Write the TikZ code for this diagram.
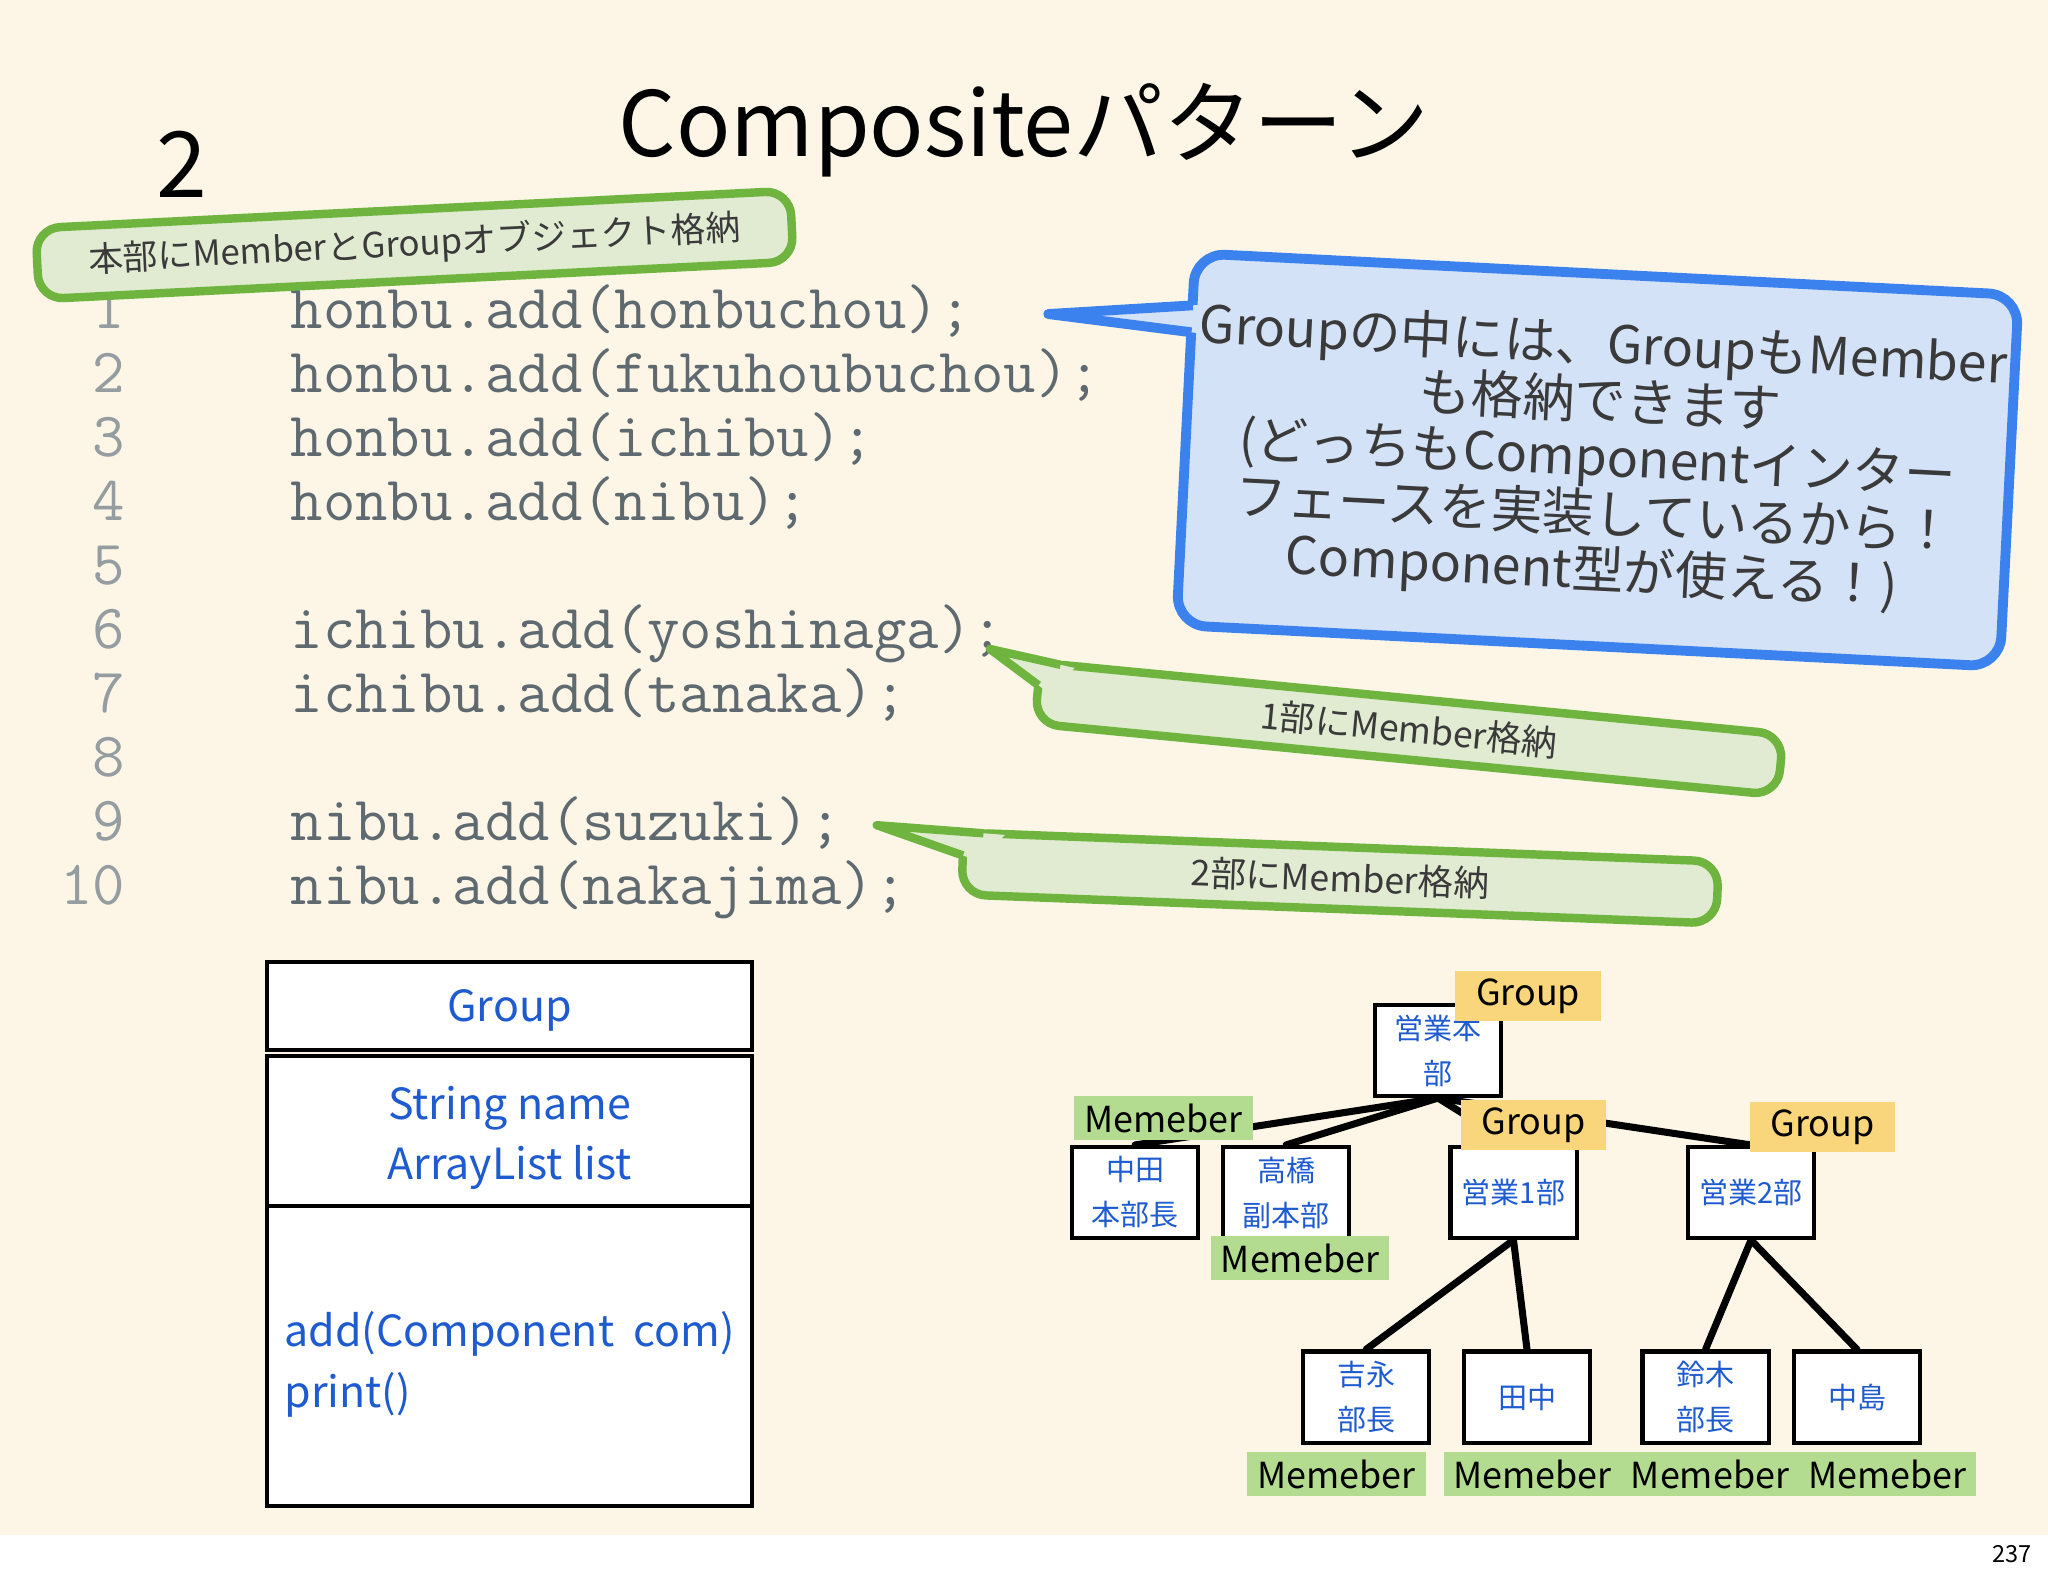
\documentclass[tikz,border=0pt]{standalone}
\usepackage{fontspec}
\setmainfont{Noto Sans CJK JP}
\usetikzlibrary{calc}

\definecolor{cream}{HTML}{FDF6E7}
\definecolor{codegray}{HTML}{5F6A70}
\definecolor{numgray}{HTML}{959DA1}
\definecolor{notegreen}{HTML}{6FB43E}
\definecolor{notegreenbg}{HTML}{E0EBD2}
\definecolor{noteblue}{HTML}{3C82EE}
\definecolor{notebluebg}{HTML}{D4E2F8}
\definecolor{notetext}{HTML}{3A3A3A}
\definecolor{umlblue}{HTML}{1E5BD0}
\definecolor{tagyellow}{HTML}{F9D57C}
\definecolor{taggreen}{HTML}{B4DC90}

\newcommand{\codefont}{\fontsize{17.9pt}{20pt}\ttfamily}
\newcommand{\notefont}{\fontsize{10.1pt}{12pt}\selectfont}
\newcommand{\bignotefont}{\fontsize{14.7pt}{16.1pt}\selectfont}
\newcommand{\umlfont}{\fontsize{12.2pt}{17.2pt}\selectfont}
\newcommand{\orgfont}{\fontsize{8.25pt}{12.8pt}\selectfont}
\newcommand{\tagfont}{\fontsize{10.2pt}{12pt}\selectfont}

\tikzset{
  codeline/.style={anchor=base west, inner sep=0pt, text=codegray, font=\codefont},
  lineno/.style={anchor=base east, inner sep=0pt, text=numgray, font=\codefont},
  greennote/.style={draw=notegreen, fill=notegreenbg, line width=2.4pt,
    rounded corners=7pt, inner sep=0pt, text=notetext, font=\notefont},
  bluenote/.style={draw=noteblue, fill=notebluebg, line width=2.8pt,
    rounded corners=8.5pt, inner sep=0pt, align=center, text=notetext, font=\bignotefont},
  umlpart/.style={draw, line width=1.15pt, fill=white, minimum width=4.85cm,
    inner sep=0pt, text=umlblue, font=\umlfont},
  orgbox/.style={draw, line width=1.15pt, fill=white, minimum width=1.26cm,
    minimum height=0.91cm, inner sep=0pt, align=center, text=umlblue, font=\orgfont},
  orgline/.style={line width=2pt, line cap=round},
  grouptag/.style={fill=tagyellow, minimum width=1.45cm, minimum height=0.5cm,
    inner sep=0pt, font=\tagfont},
  membertag/.style={fill=taggreen, minimum width=1.78cm, minimum height=0.44cm,
    inner sep=0pt, font=\tagfont},
}

\begin{document}
\begin{tikzpicture}[x=0.01cm, y=-0.01cm]
	\useasboundingbox (0,0) rectangle (2048,1576);

	% slide background
	\fill[white] (0,0) rectangle (2048,1576);
	\fill[cream] (0,0) rectangle (2048,1535);

	% title and slide numbers
	\node[anchor=base, font=\fontsize{25.6pt}{30pt}\selectfont] (title) at (1024,157) {Compositeパターン};
	\node[anchor=base, font=\fontsize{26pt}{30pt}\selectfont] (stepno) at (182,198) {2};
	\node[anchor=base, font=\fontsize{6.7pt}{8pt}\selectfont] (pageno) at (2012,1562) {237};

	% line numbers
	\node[lineno] (n1) at (126,328) {1};
	\node[lineno] (n2) at (126,392.1) {2};
	\node[lineno] (n3) at (126,456.2) {3};
	\node[lineno] (n4) at (126,520.3) {4};
	\node[lineno] (n5) at (126,584.4) {5};
	\node[lineno] (n6) at (126,648.5) {6};
	\node[lineno] (n7) at (126,712.6) {7};
	\node[lineno] (n8) at (126,776.7) {8};
	\node[lineno] (n9) at (126,840.8) {9};
	\node[lineno] (n10) at (126,904.9) {10};

	% code
	\node[codeline] (c1) at (290,328) {honbu.add(honbuchou);};
	\node[codeline] (c2) at (290,392.1) {honbu.add(fukuhoubuchou);};
	\node[codeline] (c3) at (290,456.2) {honbu.add(ichibu);};
	\node[codeline] (c4) at (290,520.3) {honbu.add(nibu);};
	\node[codeline] (c6) at (290,648.5) {ichibu.add(yoshinaga);};
	\node[codeline] (c7) at (290,712.6) {ichibu.add(tanaka);};
	\node[codeline] (c9) at (290,840.8) {nibu.add(suzuki);};
	\node[codeline] (c10) at (290,904.9) {nibu.add(nakajima);};

	% note on honbu
	\node[greennote, rotate=2.85, minimum width=7.55cm, minimum height=0.71cm, font=\fontsize{9.9pt}{12pt}\selectfont] (note1) at (414.5,245) {本部にMemberとGroupオブジェクト格納};

	% note on Group
	\begin{scope}[shift={(1597.5,460)}, rotate=-2.9]
		\node[bluenote, transform shape, minimum width=8.24cm, minimum height=3.72cm] (noteg) at (0,0)
			{Groupの中には、GroupもMember\\も格納できます\\(どっちもComponentインター\\フェースを実装しているから！\\Component型が使える！)};
		\coordinate (tipg) at (-556,-118);
		\coordinate (ga) at (-412,-134);
		\coordinate (gb) at (-412,-107);
	\end{scope}
	\fill[notebluebg] (tipg) -- ($(tipg)!1.06!(ga)$) -- ($(tipg)!1.06!(gb)$) -- cycle;
	\draw[noteblue, line width=2.8pt, line join=round] (ga) -- (tipg) -- (gb);

	% note on ichibu
	\begin{scope}[shift={(1409,729)}, rotate=-5.5]
		\node[greennote, transform shape, minimum width=7.46cm, minimum height=0.61cm] (note2) at (0,0) {1部にMember格納};
		\coordinate (tip2) at (-425,-39.5);
		\coordinate (n2a) at (-353,-30.5);
		\coordinate (n2b) at (-373,-8);
	\end{scope}
	\fill[notegreenbg] (tip2) -- ($(tip2)!1.2!(n2a)$) -- ($(tip2)!1.2!(n2b)$) -- cycle;
	\draw[notegreen, line width=2.4pt, line join=round] (n2a) -- (tip2) -- (n2b);

	% note on nibu
	\begin{scope}[shift={(1340,878)}, rotate=-2.2]
		\node[greennote, transform shape, minimum width=7.55cm, minimum height=0.62cm] (note3) at (0,0) {2部にMember格納};
		\coordinate (tip3) at (-465,-35);
		\coordinate (n3a) at (-358,-31);
		\coordinate (n3b) at (-377.5,-8);
	\end{scope}
	\fill[notegreenbg] (tip3) -- ($(tip3)!1.2!(n3a)$) -- ($(tip3)!1.2!(n3b)$) -- cycle;
	\draw[notegreen, line width=2.4pt, line join=round] (n3a) -- (tip3) -- (n3b);

	% class box
	\node[umlpart, minimum height=0.88cm, text height=1.12em, text depth=0.25em] (clsname) at (509.5,1006) {Group};
	\node[umlpart, minimum height=1.50cm, align=center] (clsattr) at (509.5,1131) {\rule{0pt}{1.1em}String name\\ArrayList list};
	\node[umlpart, minimum height=3.00cm, align=left] (clsops) at (509.5,1356) {\rule{0pt}{1.2em}add(Component\ \ com)\\print()};

	% org tree
	\node[orgbox] (honbu) at (1438,1050.5) {営業本\\部};
	\node[orgbox] (nakata) at (1135,1192.5) {中田\\本部長};
	\node[orgbox] (takahashi) at (1286,1192.5) {高橋\\副本部};
	\node[orgbox] (ichibu) at (1513.5,1192.5) {営業1部};
	\node[orgbox] (nibu) at (1751,1192.5) {営業2部};
	\node[orgbox] (yoshinaga) at (1366,1397) {吉永\\部長};
	\node[orgbox] (tanaka) at (1527,1397) {田中};
	\node[orgbox] (suzuki) at (1705.5,1397) {鈴木\\部長};
	\node[orgbox] (nakajima) at (1857,1397) {中島};

	\draw[orgline] (honbu.south) -- (nakata.north);
	\draw[orgline] (honbu.south) -- (takahashi.north);
	\draw[orgline] (honbu.south) -- (ichibu.north);
	\draw[orgline] (honbu.south) -- (nibu.north);
	\draw[orgline] (ichibu.south) -- (yoshinaga.north);
	\draw[orgline] (ichibu.south) -- (tanaka.north);
	\draw[orgline] (nibu.south) -- (suzuki.north);
	\draw[orgline] (nibu.south) -- (nakajima.north);

	% tags
	\node[grouptag] (taghonbu) at (1528,996) {Group};
	\node[grouptag] (tagichibu) at (1533.5,1125) {Group};
	\node[grouptag] (tagnibu) at (1822.5,1127) {Group};
	\node[membertag] (tagnakata) at (1163.5,1118) {Memeber};
	\node[membertag] (tagtakahashi) at (1300,1258) {Memeber};
	\node[membertag] (tagyoshinaga) at (1336.5,1474) {Memeber};
	\node[membertag] (tagtanaka) at (1532.7,1474) {Memeber};
	\node[membertag] (tagsuzuki) at (1710,1474) {Memeber};
	\node[membertag] (tagnakajima) at (1887.3,1474) {Memeber};

\end{tikzpicture}
\end{document}
